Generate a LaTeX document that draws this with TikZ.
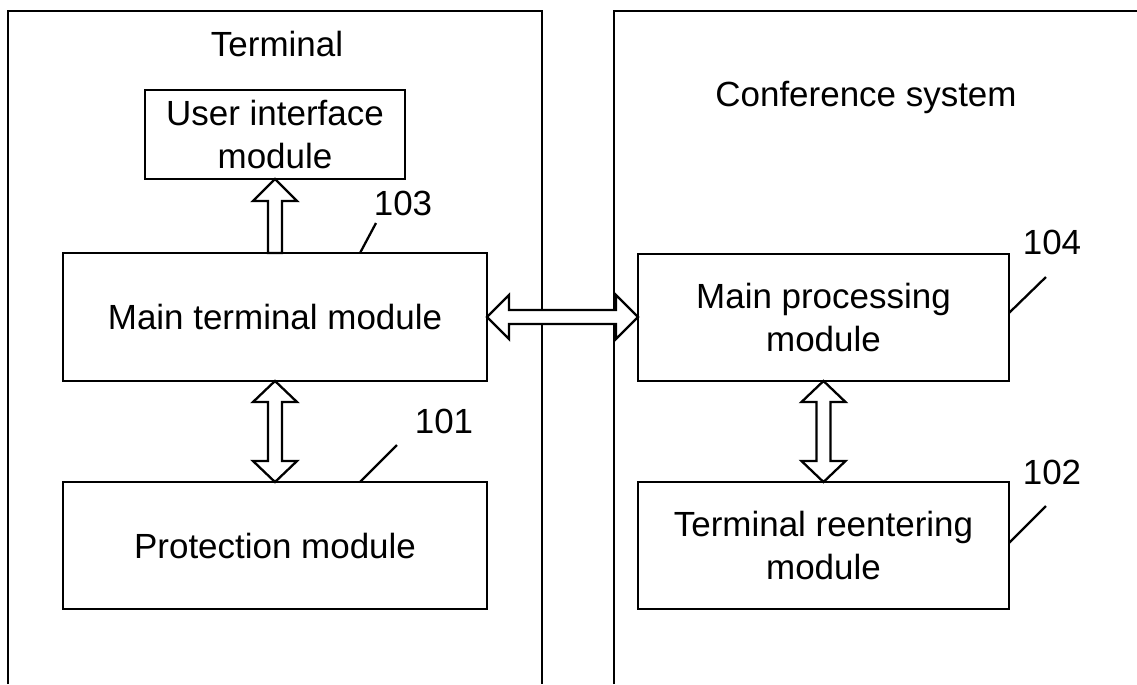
\documentclass[tikz,border=0pt]{standalone}
\usepackage{fontspec}
\setmainfont{Liberation Sans}
\usetikzlibrary{calc}

\begin{document}
\begin{tikzpicture}[x=0.02cm, y=-0.02cm, line width=1.3pt,
  font=\fontsize{19.9}{24}\selectfont,
  mod/.style={draw, rectangle, inner sep=0pt, outer sep=0pt, align=center},
  hollow/.style={draw, fill=white}]
\useasboundingbox (0,0) rectangle (1137,684);
\draw (8,684) -- (8,11) -- (542,11) -- (542,684);
\draw (614,684) -- (614,11) -- (1137,11);
\node (term) at (277,44) {Terminal};
\node (conf) at (866,97) {Conference system};
\node[mod, minimum width=5.2cm, minimum height=1.78cm] (ui) at (275,134.5) {User interface\\module};
\node[mod, minimum width=8.48cm, minimum height=2.56cm] (mtm) at (275,317) {Main terminal module};
\node[mod, minimum width=8.48cm, minimum height=2.54cm] (pm) at (275,545.5) {Protection module};
\node[mod, minimum width=7.42cm, minimum height=2.54cm] (mpm) at (823.5,317.5) {Main processing\\module};
\node[mod, minimum width=7.42cm, minimum height=2.54cm] (trm) at (823.5,545.5) {Terminal reentering\\module};
\node (n103) at (403,203) {103};
\node (n101) at (444,421) {101};
\node (n104) at (1052,242) {104};
\node (n102) at (1052,472) {102};
\draw (mtm.north) ++(85,0) -- ++(16,-30);
\draw (pm.north) ++(85,0) -- ++(37,-37);
\draw (mpm.east) ++(0,-4.5) -- ++(37,-36);
\draw (trm.east) ++(0,-2.5) -- ++(37,-37);
\coordinate (hb) at (mtm.east -| mpm.west);
\draw[hollow] (ui.south) -- ++(22,22) -- ++(-15,0) -- ($(mtm.north)+(7,0)$) -- ($(mtm.north)+(-7,0)$) -- ($(ui.south)+(-7,22)$) -- ++(-15,0) -- cycle;
\draw[hollow] (mtm.south) -- ++(22,21) -- ++(-15,0) -- ($(pm.north)+(7,-21)$) -- ++(15,0) -- (pm.north) -- ++(-22,-21) -- ++(15,0) -- ($(mtm.south)+(-7,21)$) -- ++(-15,0) -- cycle;
\draw[hollow] (mpm.south) -- ++(22,21) -- ++(-15,0) -- ($(trm.north)+(7,-21)$) -- ++(15,0) -- (trm.north) -- ++(-22,-21) -- ++(15,0) -- ($(mpm.south)+(-7,21)$) -- ++(-15,0) -- cycle;
\draw[hollow] (mtm.east) -- ++(22,-22) -- ++(0,15) -- ($(hb)+(-22,-7)$) -- ++(0,-15) -- (hb) -- ++(-22,22) -- ++(0,-15) -- ($(mtm.east)+(22,7)$) -- ++(0,15) -- cycle;
\end{tikzpicture}
\end{document}
